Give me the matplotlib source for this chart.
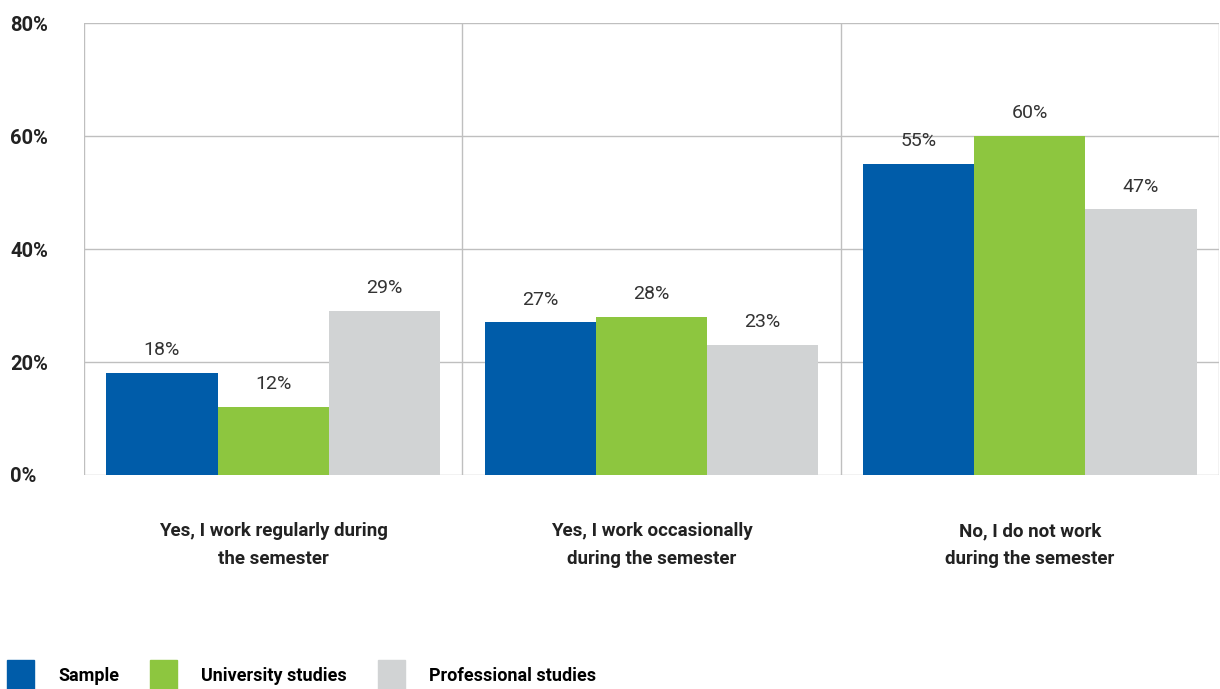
"""Work during the semester by type of studies."""

import matplotlib.pyplot as plt
import numpy as np
from matplotlib.patches import Patch

categories = [
    "Yes, I work regularly during\nthe semester",
    "Yes, I work occasionally\nduring the semester",
    "No, I do not work\nduring the semester",
]
series_names = ["Sample", "University studies", "Professional studies"]
sample = [18, 27, 55]
university = [12, 28, 60]
professional = [29, 23, 47]
y_ticks = [0, 20, 40, 60, 80]

colors = ["#005CA9", "#8DC63F", "#D1D3D4"]
font = {"family": "Roboto"}

fig = plt.figure(figsize=(12.2, 6.89), dpi=100)
ax = fig.add_axes([84 / 1220, 1 - 475 / 689, 1135 / 1220, 452 / 689])

x = np.arange(len(categories))
width = 0.294
for i, (vals, name) in enumerate(zip([sample, university, professional], series_names)):
    bars = ax.bar(x + (i - 1) * width, vals, width, color=colors[i], label=name, zorder=3)
    ax.bar_label(bars, labels=[f"{v}%" for v in vals], padding=10,
                 fontsize=14, color="#333333", **font)

ax.set_xlim(-0.5, len(categories) - 0.5)
ax.set_ylim(0, 80)
ax.set_yticks(y_ticks)
ax.set_yticklabels([f"{t}%" for t in y_ticks], fontsize=14.5, fontweight="bold",
                   color="#222222", **font)
ax.set_xticks(x)
ax.set_xticklabels(categories, fontsize=13.5, fontweight="bold", color="#222222",
                   linespacing=1.7, **font)
ax.tick_params(axis="both", length=0)
ax.tick_params(axis="x", pad=34)
ax.tick_params(axis="y", pad=53)
for t in ax.get_yticklabels():
    t.set_horizontalalignment("left")

# category separators and horizontal grid
ax.set_xticks(np.arange(-0.5, len(categories), 1), minor=True)
ax.grid(axis="x", which="minor", color="#BFBFBF", linewidth=1, zorder=0)
ax.grid(axis="y", which="major", color="#BFBFBF", linewidth=1, zorder=0)
ax.grid(axis="x", which="major", visible=False)
ax.tick_params(axis="x", which="minor", length=0)
for side in ["top", "right", "bottom", "left"]:
    ax.spines[side].set_visible(False)

handles = [Patch(color=c) for c in colors]
fig.legend(handles, series_names, loc="lower left", bbox_to_anchor=(-0.005, -0.022),
           ncol=3, frameon=False, handlelength=1.5, handleheight=2.3,
           handletextpad=1.35, columnspacing=1.7, borderaxespad=0.3,
           prop={"size": 13, "weight": "bold", **font})

fig.savefig("out.png", dpi=100)
